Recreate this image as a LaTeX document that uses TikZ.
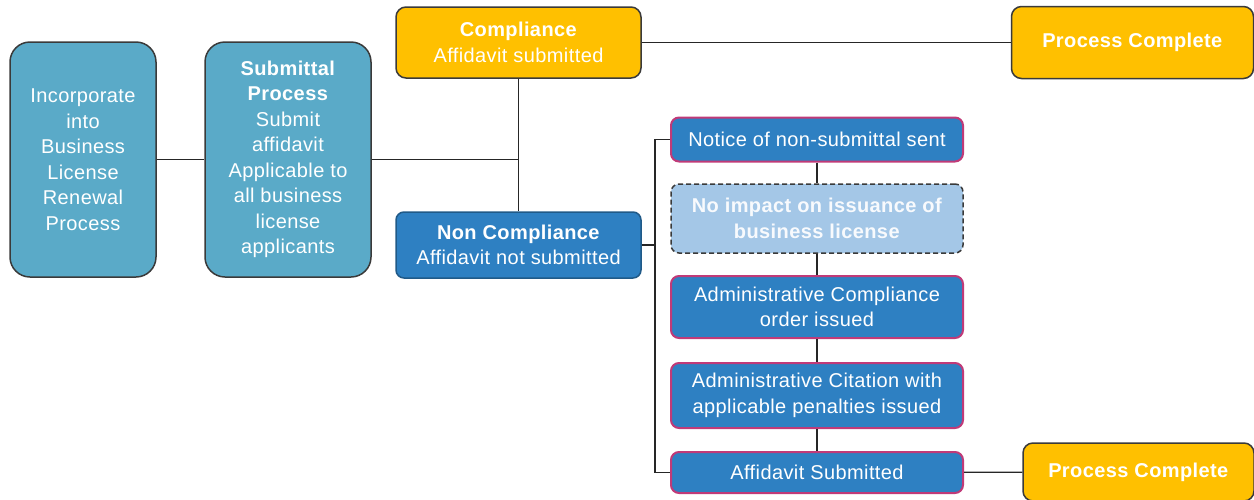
\documentclass[tikz,border=0pt]{standalone}
\usepackage{fontspec}
\setmainfont{Liberation Sans}[LetterSpace=2]
\definecolor{teal}{HTML}{5AAAC8}
\definecolor{gold}{HTML}{FFC000}
\definecolor{bblue}{HTML}{2E80C2}
\definecolor{lblue}{HTML}{A4C7E7}
\definecolor{mag}{HTML}{C03A78}
\definecolor{dgray}{HTML}{3A3A3A}
\begin{document}
\begin{tikzpicture}[x=1pt,y=-1pt,
  base/.style={draw=dgray, line width=1.5pt, text=white, align=center, inner sep=2pt,
    font=\fontsize{20}{25.5}\selectfont},
  tealbox/.style={base, fill=teal, rounded corners=20pt},
  goldbox/.style={base, fill=gold, rounded corners=10pt},
  bluebox/.style={base, fill=bblue, draw=bblue!70!black, rounded corners=8pt},
  stepbox/.style={base, fill=bblue, draw=mag, line width=2pt, rounded corners=8pt, minimum width=292pt},
  dashbox/.style={base, fill=lblue, draw=dgray, dash pattern=on 5pt off 3pt, rounded corners=8pt, minimum width=292pt, text=white!92!lblue},
  conn/.style={draw=black!85, line width=1.3pt}
]
\useasboundingbox (0,0) rectangle (1254,499);

\node[tealbox, minimum width=146pt, minimum height=235pt] (inc) at (83,159.5)
  {Incorporate\\into\\Business\\License\\Renewal\\Process};
\node[tealbox, minimum width=166pt, minimum height=235pt] (sub) at (288,159.5)
  {\textbf{Submittal}\\\textbf{Process}\\Submit\\affidavit\\Applicable to\\all business\\license\\applicants};
\node[goldbox, minimum width=245pt, minimum height=71pt] (comp) at (518.5,42.5)
  {\textbf{Compliance}\\Affidavit submitted};
\node[goldbox, minimum width=242pt, minimum height=72pt] (pc1) at (1132.5,42.5)
  {\textbf{Process Complete}};
\node[bluebox, minimum width=245pt, minimum height=66pt] (non) at (518.5,245)
  {\textbf{Non Compliance}\\Affidavit not submitted};

\node[stepbox, minimum height=44pt] (notice) at (817,139.5) {Notice of non-submittal sent};
\node[dashbox, minimum height=69pt] (noimp) at (817,218.5) {\textbf{No impact on issuance of}\\\textbf{business license}};
\node[stepbox, minimum height=62pt] (acomp) at (817,307) {Administrative Compliance\\order issued};
\node[stepbox, minimum height=65pt] (acit) at (817,395.5) {Administrative Citation with\\applicable penalties issued};
\node[stepbox, minimum height=41pt] (asub) at (817,472.5) {Affidavit Submitted};
\node[goldbox, minimum width=231pt, minimum height=58pt] (pc2) at (1138.5,472)
  {\textbf{Process Complete}};

\coordinate (j1) at (518.5,159.5);
\coordinate (j2) at (655,245);

\draw[conn] (inc) -- (sub);
\draw[conn] (sub.east) -- (j1);
\draw[conn] (comp) -- (non);
\draw[conn] (comp) -- (pc1);
\draw[conn] (non.east) -- (j2);
\draw[conn] (notice.west) -| (j2) |- (asub.west);
\draw[conn] (notice) -- (noimp);
\draw[conn] (noimp) -- (acomp);
\draw[conn] (acomp) -- (acit);
\draw[conn] (acit) -- (asub);
\draw[conn] (asub) -- (pc2);
\end{tikzpicture}
\end{document}
